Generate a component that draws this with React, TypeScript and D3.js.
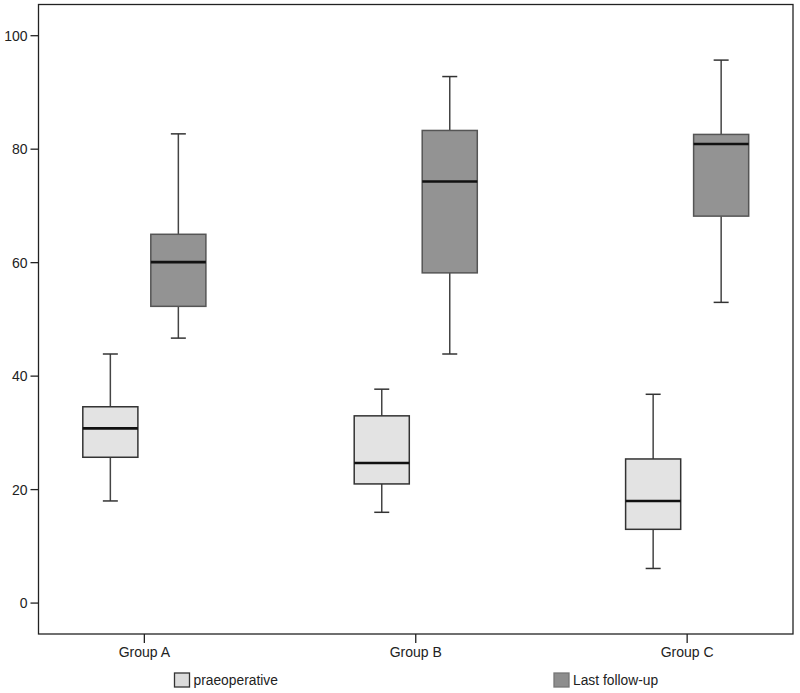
import React from "react";
import * as d3 from "d3";

const groups = ["Group A", "Group B", "Group C"];
const seriesNames = ["praeoperative", "Last follow-up"];
const yTicks = [0, 20, 40, 60, 80, 100];

// [lowerWhisker, q1, median, q3, upperWhisker]
const praeoperative = [
  [18.0, 25.7, 30.8, 34.6, 43.9],
  [16.0, 21.0, 24.7, 33.0, 37.7],
  [6.1, 13.0, 18.0, 25.4, 36.8],
];
const lastFollowUp = [
  [46.7, 52.3, 60.1, 65.0, 82.7],
  [43.9, 58.2, 74.3, 83.3, 92.8],
  [53.0, 68.2, 80.9, 82.6, 95.7],
];

const W = 800;
const H = 693;
const left = 38.5;
const right = 793;
const top = 4.5;
const bottom = 634;

const fills = ["#e3e3e3", "#939393"];
const strokes = ["#333333", "#555555"];
const legendFills = ["#dcdcdc", "#8e8e8e"];
const legendStrokes = ["#333", "#777"];
const font = "'Liberation Sans', Arial, sans-serif";

export default function App() {
  const x0 = d3.scalePoint<string>().domain(groups).range([left, right]).padding(0.39);
  const x1 = d3.scaleBand<string>().domain(seriesNames).range([-68, 68]).padding(0);
  const y = d3.scaleLinear().domain([-5.45, 105.5]).range([bottom, top]);
  const bw = x1.bandwidth() * 0.81;
  const cap = 7.5;
  const data = [praeoperative, lastFollowUp];

  return (
    <svg
      width={W}
      height={H}
      style={{ position: "absolute", left: 0, top: 0, background: "#fff" }}
      fontFamily={font}
    >
      <rect x={0} y={0} width={W} height={H} fill="#fff" />
      {/* frame */}
      <rect x={left} y={top} width={right - left} height={bottom - top} fill="none" stroke="#222" strokeWidth={1.3} />
      {/* y ticks */}
      {yTicks.map((t) => (
        <g key={t}>
          <line x1={left - 8} x2={left} y1={y(t)} y2={y(t)} stroke="#222" strokeWidth={1.3} />
          <text x={left - 11} y={y(t)} dy="0.35em" textAnchor="end" fontSize={14} fill="#222">
            {t}
          </text>
        </g>
      ))}
      {/* x ticks */}
      {groups.map((g) => (
        <g key={g}>
          <line x1={x0(g)!} x2={x0(g)!} y1={bottom} y2={bottom + 9} stroke="#222" strokeWidth={1.3} />
          <text x={x0(g)!} y={bottom + 23} textAnchor="middle" fontSize={14} fill="#222">
            {g}
          </text>
        </g>
      ))}
      {/* boxes */}
      {data.map((series, si) =>
        series.map((d, gi) => {
          const cx = x0(groups[gi])! + x1(seriesNames[si])! + x1.bandwidth() / 2;
          const [lo, q1, med, q3, hi] = d;
          return (
            <g key={`${si}-${gi}`}>
              <line x1={cx} x2={cx} y1={y(hi)} y2={y(q3)} stroke="#444" strokeWidth={1.5} />
              <line x1={cx} x2={cx} y1={y(q1)} y2={y(lo)} stroke="#444" strokeWidth={1.5} />
              <line x1={cx - cap} x2={cx + cap} y1={y(hi)} y2={y(hi)} stroke="#333" strokeWidth={1.5} />
              <line x1={cx - cap} x2={cx + cap} y1={y(lo)} y2={y(lo)} stroke="#333" strokeWidth={1.5} />
              <rect
                x={cx - bw / 2}
                y={y(q3)}
                width={bw}
                height={y(q1) - y(q3)}
                fill={fills[si]}
                stroke={strokes[si]}
                strokeWidth={1.5}
              />
              <line x1={cx - bw / 2} x2={cx + bw / 2} y1={y(med)} y2={y(med)} stroke="#111" strokeWidth={2.6} />
            </g>
          );
        })
      )}
      {/* legend */}
      {seriesNames.map((s, i) => {
        const lx = i === 0 ? 174.5 : 554;
        return (
          <g key={s}>
            <rect x={lx} y={673} width={15} height={14} fill={legendFills[i]} stroke={legendStrokes[i]} strokeWidth={1.3} />
            <text x={lx + 19} y={685} fontSize={13.8} fill="#222">
              {s}
            </text>
          </g>
        );
      })}
    </svg>
  );
}
